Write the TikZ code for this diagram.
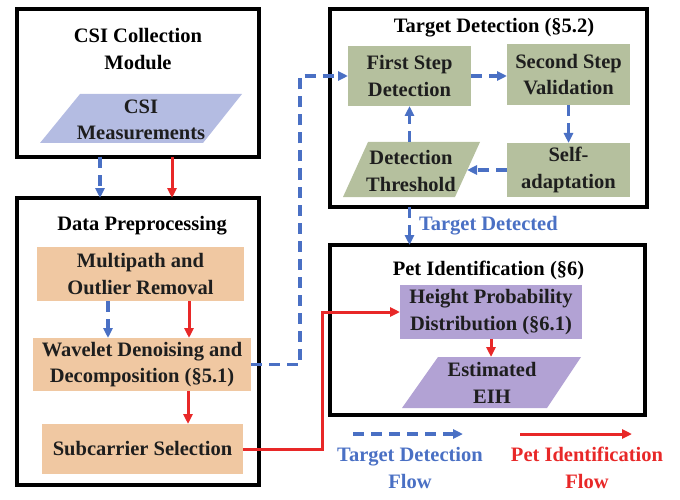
\documentclass[tikz,border=0pt]{standalone}
\usepackage{fontspec}
\setmainfont{Liberation Serif}
\usetikzlibrary{arrows.meta,calc}
\definecolor{bluec}{RGB}{74,112,196}
\definecolor{redc}{RGB}{232,40,40}
\definecolor{orangec}{RGB}{240,200,162}
\definecolor{greenc}{RGB}{181,192,158}
\definecolor{purplec}{RGB}{178,162,212}
\definecolor{lavc}{RGB}{180,188,226}
\definecolor{txtc}{RGB}{30,30,30}
\begin{document}
\begin{tikzpicture}[x=1pt,y=-1pt,
  every node/.style={inner sep=0pt, outer sep=0pt},
  txt/.style={font=\fontsize{20.5}{26.5}\selectfont\bfseries, text=txtc, align=center},
  frame/.style={draw=black, line width=3.3pt},
  orangebox/.style={txt, fill=orangec},
  greenbox/.style={txt, fill=greenc},
  purplebox/.style={txt, fill=purplec},
  bluearrow/.style={draw=bluec, line width=3.2pt, dash pattern=on 11pt off 7pt, -{Triangle[length=10pt,width=9pt]}},
  redarrow/.style={draw=redc, line width=3pt, -{Triangle[length=10pt,width=9pt]}}
]
\useasboundingbox (0,0) rectangle (680,500);

% frames
\node[frame, minimum width=242pt, minimum height=148pt] (box1) at (138,83) {};
\node[frame, minimum width=242pt, minimum height=287pt] (box2) at (138,341.5) {};
\node[frame, minimum width=317pt, minimum height=198pt] (box3) at (488.5,108) {};
\node[frame, minimum width=315pt, minimum height=170pt] (box4) at (487.5,330) {};

% titles
\node[txt, text=black] (t1) at (138,49) {CSI Collection\\Module};
\node[txt, text=black, anchor=base] (t2) at (142,230) {Data Preprocessing};
\node[txt, text=black, anchor=base] (t3) at (494,33) {Target Detection (§5.2)};
\node[txt, text=black, anchor=base] (t4) at (488.5,275) {Pet Identification (§6)};

% parallelograms
\fill[lavc] (40,143) -- (80,94) -- (242,94) -- (203,143) -- cycle;
\fill[greenc] (343,197) -- (368,142) -- (480,142) -- (455,197) -- cycle;
\fill[purplec] (402,408) -- (438,357) -- (581,357) -- (547,408) -- cycle;
\node[txt] (csi) at (141,120) {CSI\\Measurements};
\node[txt] (thr) at (411,171) {Detection\\Threshold};
\node[txt] (eih) at (492,383) {Estimated\\EIH};
\coordinate (thrR) at (467,171);
\coordinate (eihT) at (491,357);

% boxes
\node[orangebox, minimum width=207pt, minimum height=54pt] (mp) at (140.5,274) {Multipath and\\Outlier Removal};
\node[orangebox, minimum width=218pt, minimum height=53pt] (wv) at (142,364.5) {Wavelet Denoising and\\Decomposition (§5.1)};
\node[orangebox, minimum width=201pt, minimum height=50pt] (sc) at (142.5,449) {Subcarrier Selection};
\node[greenbox, minimum width=123pt, minimum height=60pt] (fs) at (409.5,76) {First Step\\Detection};
\node[greenbox, minimum width=123pt, minimum height=61pt] (ss) at (568.5,74.5) {Second Step\\Validation};
\node[greenbox, minimum width=123pt, minimum height=54pt] (sa) at (568.5,170) {\raisebox{-3pt}{Self-}\\\raisebox{-3pt}{adaptation}};
\node[purplebox, minimum width=182pt, minimum height=54pt] (hp) at (491,312) {Height Probability\\Distribution (§6.1)};

% helper coordinates
\coordinate (bx) at (300,0);
\coordinate (rx) at (322,0);

% connectors
\draw[bluearrow] ([xshift=-38pt]box1.south) -- ([xshift=-38pt]box2.north);
\draw[redarrow] ([xshift=34pt]box1.south) -- ([xshift=34pt]box2.north);
\draw[bluearrow] ([xshift=-32.5pt]mp.south) -- ([xshift=-34pt]wv.north);
\draw[redarrow] ([xshift=48.5pt]mp.south) -- ([xshift=47pt]wv.north);
\draw[redarrow] ([xshift=46pt]wv.south) -- ([xshift=45.5pt]sc.north);
\draw[redarrow] (sc.east) -- (sc.east -| rx) |- (hp.west);
\draw[bluearrow] (wv.east) -- (wv.east -| bx) |- (fs.west);
\draw[bluearrow] (fs.east) -- (fs.east -| ss.west);
\draw[bluearrow] (ss.south) -- (sa.north);
\draw[bluearrow] (sa.west) -- (sa.west -| thrR);
\draw[bluearrow] (fs.south |- 0,142) -- (fs.south);
\draw[bluearrow] (box3.south -| fs.south) -- (box4.north -| fs.south);
\node[txt, text=bluec, anchor=base west] (tdl) at (419,230) {Target Detected};
\draw[redarrow] (hp.south) -- (eihT);

% legend
\coordinate (lb1) at (353,434);
\coordinate (lb2) at (463,434);
\coordinate (lr1) at (520,434);
\coordinate (lr2) at (632,434);
\draw[bluearrow] (lb1) -- (lb2);
\draw[redarrow] (lr1) -- (lr2);
\node[txt, text=bluec] (lgb) at (410,468) {Target Detection\\Flow};
\node[txt, text=redc] (lgr) at (587,468) {Pet Identification\\Flow};
\end{tikzpicture}
\end{document}
